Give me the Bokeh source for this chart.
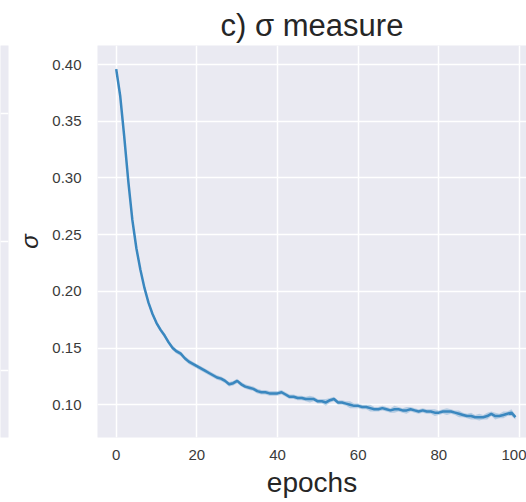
from bokeh.plotting import figure
from bokeh.layouts import row
from bokeh.models import FixedTicker, Range1d, NumeralTickFormatter
from bokeh.embed import file_html
from bokeh.resources import INLINE

# ---- data ----
epochs = list(range(100))
sigma = [
    0.396, 0.372, 0.336, 0.297, 0.263, 0.238, 0.219, 0.203, 0.190, 0.180,
    0.172, 0.166, 0.161, 0.155, 0.150, 0.147, 0.145, 0.141, 0.138, 0.136,
    0.134, 0.132, 0.130, 0.128, 0.126, 0.124, 0.123, 0.121, 0.118, 0.119,
    0.121, 0.118, 0.116, 0.115, 0.114, 0.112, 0.111, 0.111, 0.110, 0.110,
    0.110, 0.111, 0.109, 0.107, 0.107, 0.106, 0.106, 0.105, 0.105, 0.105,
    0.103, 0.103, 0.102, 0.104, 0.105, 0.102, 0.102, 0.101, 0.100, 0.099,
    0.099, 0.098, 0.098, 0.097, 0.096, 0.096, 0.097, 0.096, 0.095, 0.096,
    0.096, 0.095, 0.095, 0.096, 0.095, 0.094, 0.095, 0.094, 0.094, 0.093,
    0.093, 0.094, 0.094, 0.094, 0.093, 0.092, 0.091, 0.090, 0.090, 0.089,
    0.089, 0.089, 0.090, 0.092, 0.090, 0.090, 0.091, 0.092, 0.093, 0.089,
]
ci_half = [
    0.002, 0.003, 0.003, 0.003, 0.003, 0.003, 0.002, 0.002, 0.002, 0.002,
    0.002, 0.002, 0.002, 0.002, 0.002, 0.002, 0.002, 0.002, 0.002, 0.002,
    0.002, 0.002, 0.002, 0.002, 0.002, 0.002, 0.002, 0.002, 0.002, 0.002,
    0.002, 0.002, 0.002, 0.002, 0.002, 0.002, 0.002, 0.002, 0.002, 0.002,
    0.002, 0.002, 0.002, 0.002, 0.002, 0.002, 0.002, 0.002, 0.003, 0.002,
    0.002, 0.002, 0.003, 0.002, 0.002, 0.002, 0.002, 0.002, 0.003, 0.002,
    0.002, 0.002, 0.002, 0.003, 0.002, 0.002, 0.002, 0.002, 0.002, 0.003,
    0.002, 0.002, 0.003, 0.002, 0.002, 0.002, 0.002, 0.002, 0.002, 0.003,
    0.002, 0.002, 0.003, 0.002, 0.002, 0.003, 0.002, 0.002, 0.003, 0.002,
    0.003, 0.002, 0.003, 0.002, 0.003, 0.002, 0.003, 0.002, 0.003, 0.002,
]
x_ticks = [0, 20, 40, 60, 80, 100]
y_ticks = [0.10, 0.15, 0.20, 0.25, 0.30, 0.35, 0.40]
title_text = "c) σ measure"
x_label = "epochs"
y_label = "σ"

lower = [s - c for s, c in zip(sigma, ci_half)]
upper = [s + c for s, c in zip(sigma, ci_half)]

BG = "#EAEAF2"
TXT = "#3a3a3a"
FONT = "Liberation Sans"
BLUE = "#3a87bf"

# ---- neighbouring panel edge (left strip) ----
left = figure(width=10, height=502, x_range=Range1d(0, 1), y_range=Range1d(0, 393),
              output_backend="svg", toolbar_location=None,
              min_border_left=0, min_border_right=2, min_border_top=44, min_border_bottom=65)
left.background_fill_color = BG
left.outline_line_color = None
left.xaxis.visible = False
left.yaxis.visible = False
left.xgrid.visible = False
left.ygrid.ticker = FixedTicker(ticks=[67, 196, 325])
left.ygrid.grid_line_color = "white"
left.ygrid.grid_line_width = 1.5

# ---- main panel ----
p = figure(width=516, height=502,
           x_range=Range1d(-4.64, 101.74), y_range=Range1d(0.0711, 0.4168),
           output_backend="svg", toolbar_location=None,
           min_border_left=87, min_border_right=0, min_border_top=45, min_border_bottom=65,
           title=title_text)
p.background_fill_color = BG
p.border_fill_color = "white"
p.outline_line_color = None

p.varea(x=epochs, y1=lower, y2=upper, fill_color=BLUE, fill_alpha=0.3)
p.line(epochs, sigma, line_color=BLUE, line_width=2.5)

p.title.text_font = FONT
p.title.text_font_size = "31px"
p.title.text_font_style = "normal"
p.title.text_color = "#262626"
p.title.align = "center"
p.title.offset = 4
p.title.standoff = 6

for ax in (p.xaxis[0], p.yaxis[0]):
    ax.axis_line_color = None
    ax.major_tick_line_color = None
    ax.minor_tick_line_color = None
    ax.major_tick_out = 0
    ax.major_tick_in = 0
    ax.minor_tick_out = 0
    ax.minor_tick_in = 0
    ax.major_label_text_font = FONT
    ax.major_label_text_font_size = "15px"
    ax.major_label_text_color = TXT
    ax.axis_label_text_font = FONT
    ax.axis_label_text_color = "#262626"

p.xaxis.ticker = FixedTicker(ticks=x_ticks)
p.yaxis.ticker = FixedTicker(ticks=y_ticks)
p.yaxis.formatter = NumeralTickFormatter(format="0.00")
p.xaxis.major_label_standoff = 12
p.yaxis.major_label_standoff = 16

p.xaxis.axis_label = x_label
p.xaxis.axis_label_text_font_size = "28px"
p.xaxis.axis_label_text_font_style = "normal"
p.xaxis.axis_label_standoff = 4
p.yaxis.axis_label = y_label
p.yaxis.axis_label_text_font_size = "24px"
p.yaxis.axis_label_text_font_style = "italic"
p.yaxis.axis_label_standoff = 6

p.xgrid.ticker = FixedTicker(ticks=x_ticks)
p.ygrid.ticker = FixedTicker(ticks=y_ticks)
p.xgrid.grid_line_color = "white"
p.ygrid.grid_line_color = "white"
p.xgrid.grid_line_width = 1.5
p.ygrid.grid_line_width = 1.5

layout = row(left, p, spacing=0)
open("out.html", "w").write(file_html(layout, INLINE))
